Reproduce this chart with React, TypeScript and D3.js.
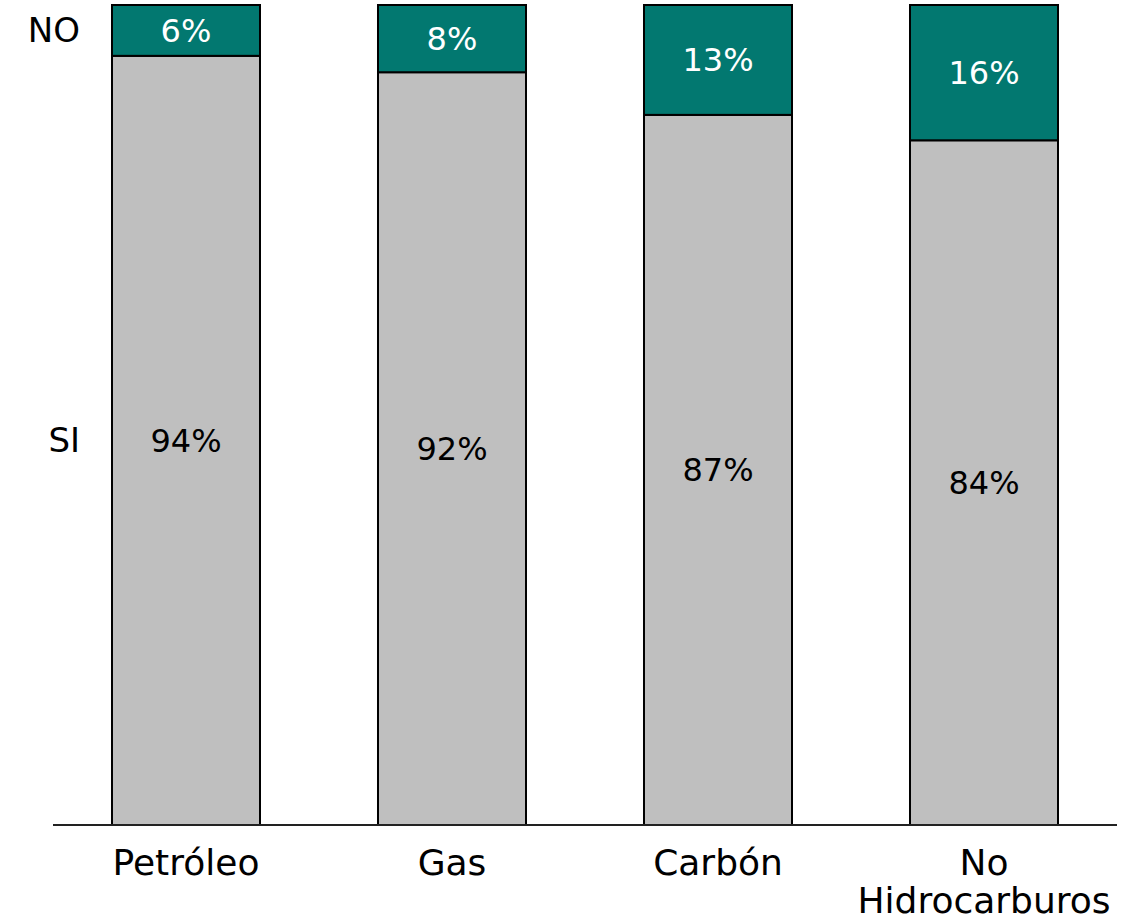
import React from "react";
import * as d3 from "d3";

const categories = ["Petróleo", "Gas", "Carbón", "No Hidrocarburos"];
const siValues = [93.8, 91.8, 86.6, 83.5];
const noValues = [6.2, 8.2, 13.4, 16.5];
const siLabels = ["94%", "92%", "87%", "84%"];
const noLabels = ["6%", "8%", "13%", "16%"];
const seriesNames = ["SI", "NO"];

const W = 1129;
const H = 922;
const FONT = "'DejaVu Sans', sans-serif";

export default function App() {
  const x = d3
    .scaleBand<string>()
    .domain(categories)
    .range([53, 1117])
    .paddingInner(0.4436)
    .paddingOuter(0.2218);
  const y = d3.scaleLinear().domain([0, 100]).range([825, 5]);

  const rows = categories.map((c, i) => ({ cat: c, SI: siValues[i], NO: noValues[i] }));
  const stacked = d3.stack<any>().keys(seriesNames)(rows);
  const colors: Record<string, string> = { SI: "#BFBFBF", NO: "#027870" };
  const textColors: Record<string, string> = { SI: "#000", NO: "#fff" };
  const labels: Record<string, string[]> = { SI: siLabels, NO: noLabels };

  return (
    <svg
      width={W}
      height={H}
      style={{ position: "absolute", left: 0, top: 0, background: "#fff" }}
      fontFamily={FONT}
    >
      {stacked.map((s) => (
        <g key={s.key}>
          {s.map((d, i) => (
            <rect
              key={i}
              x={x(categories[i])!}
              y={y(d[1])}
              width={x.bandwidth()}
              height={y(d[0]) - y(d[1])}
              fill={colors[s.key]}
              stroke="#000"
              strokeWidth={2}
            />
          ))}
          {s.map((d, i) => (
            <text
              key={"t" + i}
              x={x(categories[i])! + x.bandwidth() / 2}
              y={(y(d[0]) + y(d[1])) / 2}
              dy="0.35em"
              textAnchor="middle"
              fontSize={32}
              fill={textColors[s.key]}
            >
              {labels[s.key][i]}
            </text>
          ))}
          <text
            x={80}
            y={(y(s[0][0]) + y(s[0][1])) / 2}
            dy="0.35em"
            textAnchor="end"
            fontSize={34}
            fill="#000"
          >
            {s.key}
          </text>
        </g>
      ))}
      <line x1={53} x2={1117} y1={825} y2={825} stroke="#222" strokeWidth={2} />
      {categories.map((c) => {
        const words = c === "No Hidrocarburos" ? ["No", "Hidrocarburos"] : [c];
        return (
          <text
            key={c}
            x={x(c)! + x.bandwidth() / 2}
            y={875}
            textAnchor="middle"
            fontSize={36}
            fill="#000"
          >
            {words.map((w, j) => (
              <tspan key={j} x={x(c)! + x.bandwidth() / 2} dy={j === 0 ? 0 : 38}>
                {w}
              </tspan>
            ))}
          </text>
        );
      })}
    </svg>
  );
}
